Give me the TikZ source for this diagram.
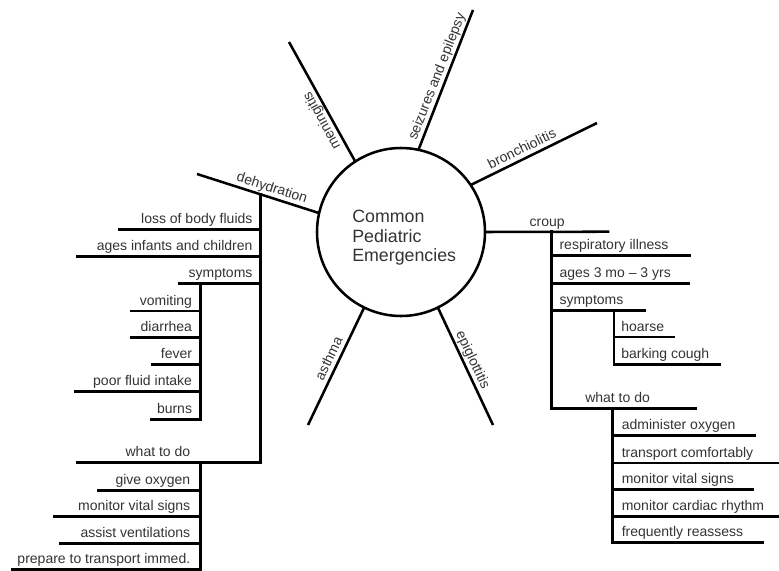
\documentclass[tikz,border=0pt]{standalone}
\usepackage{fontspec}
\setmainfont{Liberation Sans}
\usetikzlibrary{calc}
\tikzset{
  lw/.style={line width=1.9pt, black},
  trunk/.style={line width=1.9pt, black, line cap=rect},
  lbl/.style={font=\fontsize{10.5}{12}\selectfont, text=black!80, inner sep=0pt},
  spoke/.style={lbl, sloped, allow upside down, text depth=0pt, above=3pt},
  ttl/.style={font=\fontsize{13.35}{15}\selectfont, text=black!80, inner sep=0pt, anchor=base west},
}
\begin{document}
\begin{tikzpicture}[x=0.75pt,y=-0.75pt]
\useasboundingbox (0,0) rectangle (779,571);
% hub
\node[circle, draw, line width=1.9pt, minimum size=126pt, outer sep=0pt, inner sep=0pt] (hub) at (401,232) {};
\node[ttl] (t1) at (352,222.5) {Common};
\node[ttl] (t2) at (352,242) {Pediatric};
\node[ttl] (t3) at (352,261.5) {Emergencies};
% spoke ends
\coordinate (menout) at (289,42);
\coordinate (seiout) at (473,10);
\coordinate (broout) at (597,123);
\coordinate (croout) at (609.3,231.7);
\coordinate (epiout) at (493,425);
\coordinate (astout) at (308,425);
\coordinate (dehout) at (197,174);
\draw[lw] (hub.123.3) -- node[spoke, pos=0.38] (lmen) {meningitis} (menout);
\draw[lw] (hub.78.3) -- node[spoke, pos=0.50] (lsei) {seizures and epilepsy} (seiout);
\draw[lw] (hub.34.6) -- node[spoke, pos=0.44] (lbro) {bronchiolitis} (broout);
\draw[lw] (hub.0) -- node[spoke, pos=0.50] (lcro) {croup} (croout);
\draw[lw] (hub.-64.3) -- node[spoke, pos=0.48] (lepi) {epiglottitis} (epiout);
\draw[lw] (astout) -- node[spoke, pos=0.53] (last) {asthma} (hub.-116.3);
\draw[lw] (dehout) -- node[spoke, pos=0.59] (ldeh) {dehydration} (hub.167.3);
% dehydration trunks
\coordinate (dtop) at (260.7,194.7);
\coordinate (dbot) at (260.7,462.7);
\draw[trunk] (dtop) -- (dbot);
\coordinate (dstop) at (200.3,283.7);
\coordinate (dsbot) at (200.3,419.3);
\draw[trunk] (dstop) -- (dsbot);
\coordinate (dwtop) at (200.7,462.7);
\coordinate (dwbot) at (200.7,569.5);
\draw[trunk] (dwtop) -- (dwbot);
\foreach \n/\yy/\xx/\tx/\ex/\t in {
  d1/229.3/118/260.7/252.7/loss of body fluids,
  d2/256.7/76/260.7/252.7/ages infants and children,
  d3/283.7/177.7/260.7/252.7/symptoms,
  d4/311/130/200.3/192.3/vomiting,
  d5/337.3/130/200.3/192.3/diarrhea,
  d6/364.3/151/200.3/192.3/fever,
  d7/391.7/74.3/200.3/192.3/poor fluid intake,
  d8/419.3/150/200.3/192.3/burns,
  d9/462.7/76/260.7/190.5/what to do,
  d10/490.3/97.3/200.7/190.5/give oxygen,
  d11/516.7/53.3/200.7/190.5/monitor vital signs,
  d12/543.3/59.3/200.7/190.5/assist ventilations,
  d13/569.5/11/200.7/190.5/prepare to transport immed.}{
  \coordinate (\n a) at (\xx,\yy);
  \coordinate (\n b) at (\tx,\yy);
  \draw[lw] (\n a) -- (\n b);
  \node[lbl, anchor=base east] (\n) at (\ex,\yy-6) {\t};
}
% croup trunks
\coordinate (ctop) at (551.7,231.7);
\coordinate (cbot) at (551.7,408.3);
\draw[trunk] (ctop) -- (cbot);
\coordinate (cstop) at (614,310.7);
\coordinate (csbot) at (614,364.7);
\draw[trunk] (cstop) -- (csbot);
\coordinate (cwtop) at (612.3,408.3);
\coordinate (cwbot) at (612.3,542.7);
\draw[trunk] (cwtop) -- (cwbot);
\foreach \n/\yy/\xx/\tx/\sx/\t in {
  c1/255.7/691/551.7/559.3/respiratory illness,
  c2/283.7/690/551.7/559.3/ages 3 mo – 3 yrs,
  c3/310.7/645.7/551.7/559.3/symptoms,
  c4/337/675/614/621/hoarse,
  c5/364.7/721/614/621/barking cough,
  c6/408.3/697.3/551.7/585/what to do,
  c7/435.7/756/612.3/621.5/administer oxygen,
  c8/463/779/612.3/621.5/transport comfortably,
  c9/489.7/754/612.3/621.5/monitor vital signs,
  c10/516.3/779/612.3/621.5/monitor cardiac rhythm,
  c11/542.7/764.3/612.3/621.5/frequently reassess}{
  \coordinate (\n a) at (\tx,\yy);
  \coordinate (\n b) at (\xx,\yy);
  \draw[lw] (\n a) -- (\n b);
  \node[lbl, anchor=base west] (\n) at (\sx,\yy-6) {\t};
}
\end{tikzpicture}
\end{document}
